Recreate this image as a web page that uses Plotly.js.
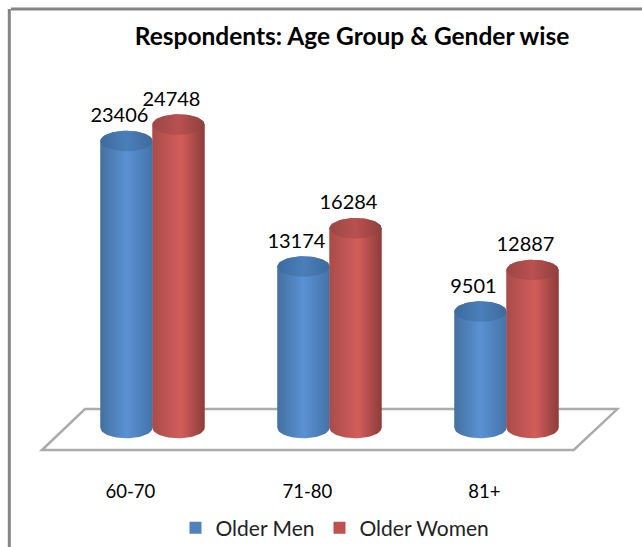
<!DOCTYPE html>
<html><head><meta charset="utf-8">
<script src="https://cdn.plot.ly/plotly-3.0.0.min.js"></script>
<style>html,body{margin:0;padding:0;background:#fff}</style></head>
<body><div id="chart" style="width:642px;height:547px"></div>
<script>
const categories = ['60-70','71-80','81+'];
const olderMen = [23406,13174,9501];
const olderWomen = [24748,16284,12887];

const FONT = 'Lato,"Open Sans",sans-serif';
const BAR = 0.294, RY = 840, N = 32;
const menGrad = [[0,'#44709f'],[0.5,'#5a92d4'],[1,'#4473a8']];
const womenGrad = [[0,'#a84c49'],[0.55,'#d25d5b'],[1,'#8c3d3b']];
const menCap = [[0,'#3d6a9c'],[0.5,'#4b7fba'],[1,'#3d6a9c']];
const womenCap = [[0,'#9c4745'],[0.5,'#b85150'],[1,'#8f403e']];

function body(cx,v){
  const xs=[],ys=[];
  for(let i=0;i<=N;i++){const a=Math.PI*i/N;xs.push(cx-BAR/2*Math.cos(a));ys.push(-RY*Math.sin(a));}
  for(let i=0;i<=N;i++){const a=Math.PI*i/N;xs.push(cx+BAR/2*Math.cos(a));ys.push(v+RY*Math.sin(a));}
  xs.push(xs[0]);ys.push(ys[0]);
  return {xs,ys};
}
function cap(cx,v){
  const xs=[],ys=[];
  for(let i=0;i<=2*N;i++){const a=Math.PI*i/N;xs.push(cx+BAR/2*Math.cos(a));ys.push(v+RY*Math.sin(a));}
  return {xs,ys};
}
function fillTrace(p,grad){
  return {type:'scatter',mode:'lines',x:p.xs,y:p.ys,fill:'toself',line:{width:0,color:'rgba(0,0,0,0)'},
    fillgradient:{type:'horizontal',colorscale:grad},showlegend:false,hoverinfo:'skip'};
}
const xi = categories.map((_,i)=>i);
const traces = [
  {type:'bar',name:'Older Men',x:xi,y:olderMen,marker:{color:'#4f81bd'}},
  {type:'bar',name:'Older Women',x:xi,y:olderWomen,marker:{color:'#c0504d'}}
];
xi.forEach(i=>{
  traces.push(fillTrace(body(i-BAR/2,olderMen[i]),menGrad));
  traces.push(fillTrace(cap(i-BAR/2,olderMen[i]),menCap));
});
xi.forEach(i=>{
  traces.push(fillTrace(body(i+BAR/2,olderWomen[i]),womenGrad));
  traces.push(fillTrace(cap(i+BAR/2,olderWomen[i]),womenCap));
});
[[olderMen,-1],[olderWomen,1]].forEach(([vals,s])=>{
  traces.push({type:'scatter',mode:'text',x:xi.map(i=>i+s*BAR/2-0.04),y:vals.map(v=>v+1950),
    text:vals.map(String),textposition:'middle center',textfont:{family:FONT,size:20,color:'#000'},
    showlegend:false,hoverinfo:'skip',cliponaxis:false});
});
const layout = {
  width:642,height:547,
  margin:{l:64,r:47,t:60,b:97,autoexpand:false},
  paper_bgcolor:'#fff',plot_bgcolor:'rgba(0,0,0,0)',
  barmode:'group',bargap:1-2*BAR,bargroupgap:0,
  title:{text:'<b>Respondents: Age Group &amp; Gender wise</b>',x:352/642,xanchor:'center',y:1-36/547,yanchor:'middle',
    font:{family:FONT,size:24.5,color:'#000'}},
  xaxis:{range:[-0.5,2.5],tickmode:'array',tickvals:xi.map(i=>i-0.125),ticktext:categories,
    showgrid:false,zeroline:false,showline:false,ticks:'',ticklabelstandoff:28,
    tickfont:{family:FONT,size:18.5,color:'#000'}},
  yaxis:{range:[-1794,30016],visible:false,showgrid:false,zeroline:false},
  legend:{orientation:'h',x:0.21,xanchor:'left',y:-0.2,yanchor:'middle',
    font:{family:FONT,size:21,color:'#222'},bgcolor:'rgba(0,0,0,0)'},
  shapes:[
    {type:'path',xref:'paper',yref:'paper',layer:'below',
     path:'M -0.0414 0 L 0.0395 0.105 L 1.042 0.105 L 0.96 0 Z',line:{color:'#ababab',width:2.5},fillcolor:'#fff'},
    {type:'line',xref:'paper',yref:'paper',x0:-0.1,x1:1.1,y0:1.131,y1:1.131,line:{color:'#858585',width:3}},
    {type:'line',xref:'paper',yref:'paper',x0:-0.103,x1:-0.103,y0:1.131,y1:-0.26,line:{color:'#858585',width:3}}
  ]
};
Plotly.newPlot('chart',traces,layout,{displayModeBar:false,staticPlot:true});
</script></body></html>
